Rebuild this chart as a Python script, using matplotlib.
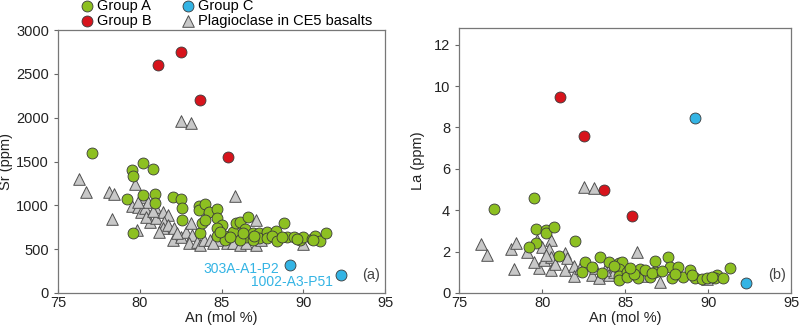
import matplotlib.pyplot as plt

plt.rcParams['font.family'] = ['Liberation Sans', 'DejaVu Sans']

# Group B (red) and Group C (blue), shared An for both panels
an_b = [81.1, 82.5, 83.7, 85.4]
sr_b = [2600, 2750, 2200, 1555]
la_b = [9.49, 7.57, 5.0, 3.7]

an_c = [89.2, 92.3]
sr_c = [320, 206]
la_c = [8.45, 0.48]
labels_c = ["303A-A1-P2", "1002-A3-P51"]

# Group A (green), Sr panel
an_a_sr = [77.1, 79.5, 79.6, 80.2, 80.8, 79.2, 80.9, 80.9, 79.6, 80.2,
           82.0, 82.5, 82.6, 82.6, 83.6, 83.6, 84.0, 84.2, 83.7, 83.8,
           84.0, 84.7, 84.7, 85.0, 84.7, 84.7, 85.2, 85.2, 85.7, 85.9,
           86.1, 86.6, 86.4, 86.5, 86.9, 87.3, 87.3, 87.8, 87.8, 88.3,
           88.1, 88.8, 88.4, 89.0, 89.4, 89.8, 90.0, 90.5, 90.7, 91.0,
           91.4, 86.9, 86.1, 85.5, 84.9, 86.3, 87.0, 88.7, 89.6, 90.6]
sr_a = [1592, 1409, 1340, 1478, 1420, 1077, 1134, 1031, 687, 1122,
        1100, 1077, 974, 836, 997, 951, 1020, 928, 687, 802,
        836, 962, 859, 779, 745, 653, 653, 607, 699, 802,
        813, 870, 733, 641, 687, 687, 630, 699, 630, 710,
        653, 802, 596, 641, 641, 607, 641, 618, 653, 596,
        687, 607, 607, 640, 700, 680, 650, 640, 620, 610]

# Group A (green), La panel
an_a_la = [77.1, 79.5, 79.6, 80.2, 80.2, 80.7, 79.6, 79.2, 82.0, 81.0,
           82.6, 83.5, 84.0, 84.6, 84.8, 82.4, 83.6, 84.6, 84.6, 84.6,
           85.1, 85.1, 85.9, 85.8, 86.5, 86.8, 86.8, 87.6, 87.7, 87.8,
           88.2, 88.5, 88.9, 89.2, 89.6, 89.9, 90.5, 90.4, 90.9, 91.3,
           83.0, 84.3, 85.5, 86.2, 86.6, 87.2, 88.0, 89.0, 90.2, 85.3]
la_a = [4.08, 4.57, 3.08, 3.04, 2.9, 3.17, 2.4, 2.2, 2.5, 1.78,
        1.5, 1.73, 1.5, 1.45, 1.5, 1.0, 0.96, 1.15, 0.82, 0.62,
        1.02, 0.78, 1.15, 0.72, 0.77, 1.54, 1.0, 1.73, 1.25, 0.72,
        1.25, 0.77, 1.1, 0.72, 0.67, 0.72, 0.87, 0.72, 0.72, 1.2,
        1.25, 1.3, 0.9, 1.1, 0.95, 1.05, 0.9, 0.85, 0.75, 1.2]

# Plagioclase in CE5 basalts (gray triangles), Sr panel
an_p_sr = [76.3, 76.7, 78.1, 78.4, 78.3, 79.7, 79.5, 79.9, 80.1, 80.3,
           79.8, 80.3, 80.5, 80.9, 80.6, 80.4, 81.0, 81.4, 81.7, 81.5,
           81.4, 81.7, 82.1, 82.0, 82.5, 82.8, 83.1, 83.2, 83.0, 83.5,
           83.7, 83.9, 84.3, 84.8, 84.5, 85.3, 85.7, 86.1, 86.5, 87.1,
           87.1, 85.8, 90.0, 87.4, 82.5, 83.1, 79.9, 80.8, 81.2, 82.3]
sr_p = [1306, 1157, 1157, 1134, 848, 1249, 997, 985, 928, 974,
        722, 1100, 1042, 985, 813, 870, 859, 928, 893, 813,
        745, 779, 745, 607, 641, 699, 802, 664, 573, 584,
        550, 607, 607, 607, 573, 573, 573, 550, 573, 550,
        836, 1111, 561, 607, 1959, 1936, 1042, 930, 700, 680]

# Plagioclase in CE5 basalts (gray triangles), La panel
an_p_la = [76.3, 76.7, 78.1, 78.4, 78.3, 79.1, 79.7, 79.8, 79.5, 80.0,
           80.5, 80.4, 80.5, 80.1, 80.5, 81.4, 81.5, 81.4, 81.9, 81.9,
           82.5, 83.1, 83.0, 83.4, 83.2, 84.0, 85.7, 87.1, 89.9, 80.8,
           82.3, 84.3, 85.0, 86.0, 80.2, 83.8]
la_p = [2.36, 1.83, 2.12, 2.41, 1.16, 1.98, 2.55, 1.2, 1.49, 2.22,
        2.55, 2.12, 1.1, 1.59, 1.73, 1.93, 1.69, 1.1, 1.3, 0.82,
        5.1, 5.06, 0.87, 0.72, 1.2, 0.87, 1.98, 0.53, 0.67, 1.4,
        1.2, 1.0, 0.9, 0.8, 1.85, 1.1]

green = "#8dc021"
red = "#d7141c"
blue = "#34b4e4"
gray = "#c8c8c8"
edge = "#3a3a3a"
txt = "#222222"

fig = plt.figure(figsize=(8, 3.27), dpi=100)
ax1 = fig.add_axes([0.0725, 0.104, 0.409, 0.804])
ax2 = fig.add_axes([0.574, 0.104, 0.415, 0.81])

s_c = 62
s_t = 70

for ax, an_a, ya, an_p, yp, yb, yc in [
        (ax1, an_a_sr, sr_a, an_p_sr, sr_p, sr_b, sr_c),
        (ax2, an_a_la, la_a, an_p_la, la_p, la_b, la_c)]:
    ax.scatter(an_p, yp, marker="^", s=s_t, c=gray, edgecolors="#505050",
               linewidths=0.7, zorder=2)
    ax.scatter(an_a, ya, s=s_c, c=green, edgecolors=edge, linewidths=0.6, zorder=3)
    ax.scatter(an_b, yb, s=s_c, c=red, edgecolors=edge, linewidths=0.6, zorder=3)
    ax.scatter(an_c, yc, s=s_c, c=blue, edgecolors=edge, linewidths=0.6, zorder=3)
    ax.set_xlim(75, 95)
    ax.set_xticks([75, 80, 85, 90, 95])
    ax.set_xlabel("An (mol %)", fontsize=10.5, color=txt, labelpad=1)
    ax.tick_params(axis="x", direction="in", length=3, labelsize=10.5,
                   colors="#666666", labelcolor=txt, pad=2)
    ax.tick_params(axis="y", direction="out", length=3, labelsize=10.5,
                   colors="#666666", labelcolor=txt)
    for sp in ax.spines.values():
        sp.set_color("#777777")
        sp.set_linewidth(0.9)

ax1.set_ylim(0, 3000)
ax1.set_yticks(range(0, 3001, 500))
ax1.set_ylabel("Sr (ppm)", fontsize=10.5, color=txt, labelpad=2)
ax2.set_ylim(0, 12.8)
ax2.set_yticks(range(0, 13, 2))
ax2.set_ylabel("La (ppm)", fontsize=10.5, color=txt, labelpad=6)

ax1.annotate(labels_c[0], (an_c[0], sr_c[0]), xytext=(-8, -6),
             textcoords="offset points", ha="right", color=blue, fontsize=10)
ax1.annotate(labels_c[1], (an_c[1], sr_c[1]), xytext=(-6, -8),
             textcoords="offset points", ha="right", color=blue, fontsize=10)

ax1.text(0.985, 0.04, "(a)", transform=ax1.transAxes, ha="right", va="bottom",
         fontsize=10.5, color="#444444")
ax2.text(0.985, 0.04, "(b)", transform=ax2.transAxes, ha="right", va="bottom",
         fontsize=10.5, color="#444444")

h_a = ax1.scatter([], [], s=s_c, c=green, edgecolors=edge, linewidths=0.6)
h_b = ax1.scatter([], [], s=s_c, c=red, edgecolors=edge, linewidths=0.6)
h_c = ax1.scatter([], [], s=s_c, c=blue, edgecolors=edge, linewidths=0.6)
h_p = ax1.scatter([], [], marker="^", s=s_t, c=gray, edgecolors="#505050", linewidths=0.7)
fig.legend([h_a, h_b, h_c, h_p],
           ["Group A", "Group B", "Group C", "Plagioclase in CE5 basalts"],
           ncol=2, loc="upper left", bbox_to_anchor=(0.085, 1.035), frameon=False,
           fontsize=10.5, handletextpad=0.1, labelspacing=0.1, columnspacing=1.9,
           borderpad=0.2, handlelength=1.2)

plt.savefig("out.png", dpi=100)
plt.close()
